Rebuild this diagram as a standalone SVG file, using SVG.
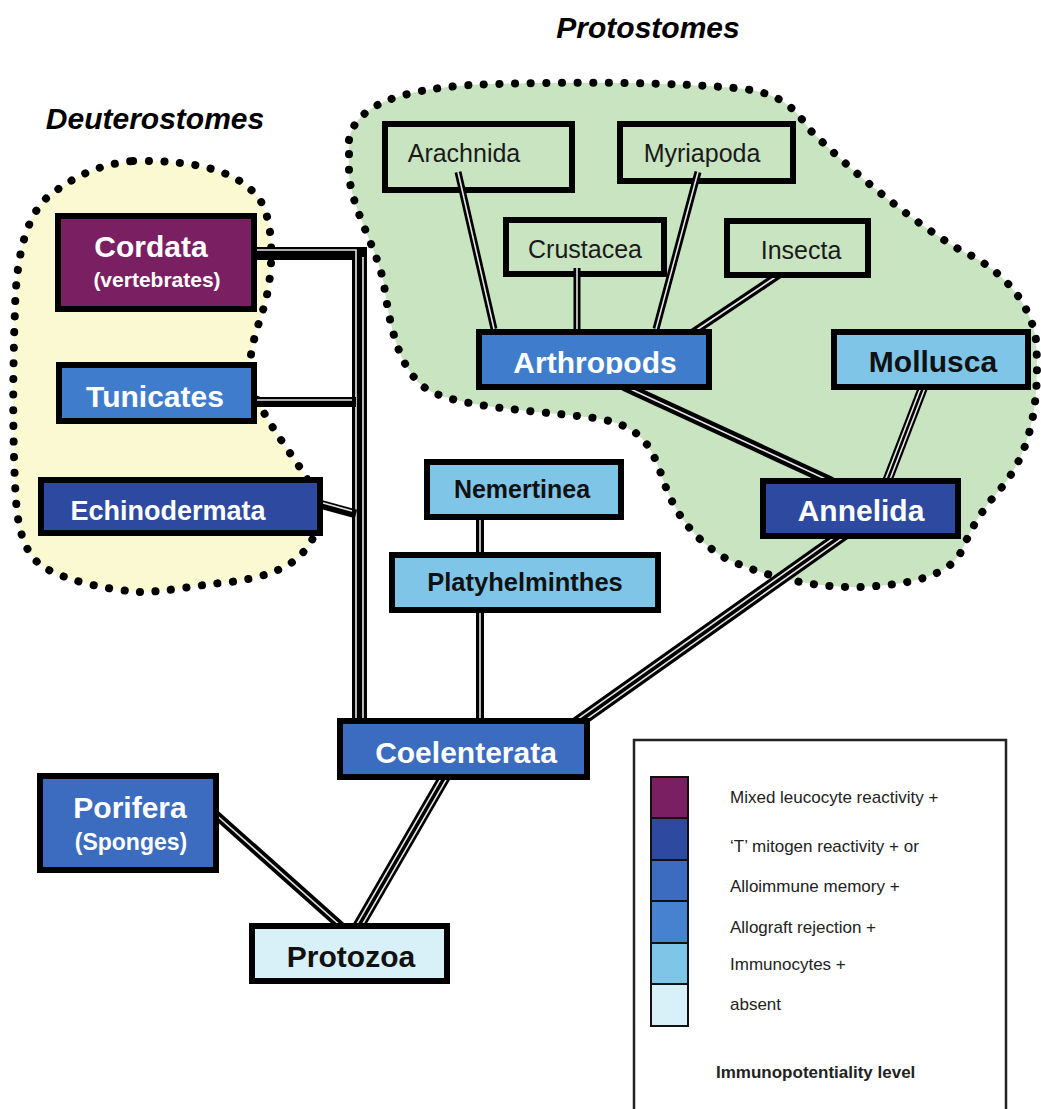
<svg xmlns="http://www.w3.org/2000/svg" width="1041" height="1109" viewBox="0 0 1041 1109">
<style>
.title{font-family:"Liberation Sans",Arial,sans-serif;font-weight:bold;font-style:italic;font-size:30px;fill:#000}
.blob-dots{fill:none;stroke:#000;stroke-width:8;stroke-linecap:round;stroke-dasharray:0.1 15.5}
.box{stroke:#000;stroke-width:6}
.lbl{font-family:"Liberation Sans",Arial,sans-serif;font-weight:bold;text-anchor:middle}
.w{fill:#fff}
.k{fill:#111}
.sm{font-family:"Liberation Sans",Arial,sans-serif;font-size:25px;fill:#1a1a1a;text-anchor:middle}
.cb{fill:none;stroke:#000;stroke-linecap:butt}
.cw{fill:none;stroke:#e6e6e6;stroke-width:1.6;stroke-linecap:butt}
.leg{font-family:"Liberation Sans",Arial,sans-serif;font-size:17px;fill:#222}
.purple{fill:#7b1f63}
.dblue{fill:#2d4aa0}
.mblue{fill:#3b6cc0}
.lblue{fill:#3f7dcc}
.sky{fill:#7ec5e8}
.pale{fill:#d8f0f8}
.green{fill:#c8e4c0}
</style>
<defs>
<path id="deutero-shape" d="M133,161 C200,160 240,172 260,200 C276,225 273,280 263,310 C255,335 246,360 252,385 C258,410 285,445 305,475 C322,505 320,535 305,550 C290,570 260,578 230,582 C190,586 165,592 140,592 C110,590 70,582 45,568 C25,556 18,530 16,500 C12,440 13,360 15,310 C16,260 25,215 50,195 C75,176 100,164 133,161 Z"/>
<path id="proto-shape" d="M349,140 C355,105 400,90 470,85 C560,81 680,82 745,89 C785,95 795,110 810,130 C850,170 910,220 960,250 C1000,268 1030,300 1036,340 C1040,400 1032,450 1002,487 C978,514 970,532 962,550 C950,576 910,585 860,587 C810,588 760,575 725,558 C695,540 676,515 665,485 C652,448 645,426 595,418 C530,410 462,408 428,390 C398,370 390,325 384,285 C378,250 352,210 349,175 Z"/>
<clipPath id="arthro-clip"><rect x="482" y="335" width="224" height="39"/></clipPath>
</defs>
<rect x="0" y="0" width="1041" height="1109" fill="#ffffff"/>

<text class="title" x="648" y="38" text-anchor="middle">Protostomes</text>
<text class="title" x="155" y="129" text-anchor="middle">Deuterostomes</text>

<g id="deuterostomes-blob">
<use href="#deutero-shape" fill="#fbf9d2"/>
<use href="#deutero-shape" class="blob-dots"/>
</g>
<g id="protostomes-blob">
<use href="#proto-shape" fill="#c8e4c0"/>
<use href="#proto-shape" class="blob-dots"/>
</g>

<g id="connectors">
<!-- Cordata to trunk -->
<path class="cb" stroke-width="13" d="M250,253.5 H367"/>
<path class="cb" stroke-width="15" d="M359.5,247 V726"/>
<path class="cw" d="M250,250 H356 V726"/>
<path class="cw" d="M363,257 V726"/>
<!-- Tunicates -->
<path class="cb" stroke-width="10" d="M250,402 H356"/>
<path class="cw" d="M250,400 H352"/>
<!-- Echinodermata -->
<path class="cb" stroke-width="9" d="M316,503 L356,514"/>
<path class="cw" d="M316,501 L352,511"/>
<!-- Nemertinea - Platyhelminthes -->
<path class="cb" stroke-width="8" d="M480,515 V558"/>
<path class="cw" d="M480,515 V558"/>
<!-- Platyhelminthes - Coelenterata -->
<path class="cb" stroke-width="8" d="M480,608 V724"/>
<path class="cw" d="M480,608 V724"/>
<!-- Annelida - Coelenterata -->
<path class="cb" stroke-width="13" d="M848,531 L574,725"/>
<path class="cw" d="M849.5,533.1 L575.5,727.1"/>
<path class="cw" d="M846.5,528.9 L572.5,722.9"/>
<!-- Coelenterata - Protozoa -->
<path class="cb" stroke-width="12" d="M447,773 L358,927"/>
<path class="cw" d="M449.2,774.3 L360.2,928.3"/>
<path class="cw" d="M444.8,771.8 L355.8,925.8"/>
<!-- Porifera - Protozoa -->
<path class="cb" stroke-width="9" d="M214,813 L342,927"/>
<path class="cw" d="M214,813 L342,927"/>
<!-- Arthropods - Annelida -->
<path class="cb" stroke-width="10" d="M624,386 L832,482"/>
<path class="cw" d="M624,386 L832,482"/>
<!-- Mollusca - Annelida -->
<path class="cb" stroke-width="10" d="M924,385 L886,484"/>
<path class="cw" d="M925.9,385.7 L887.9,484.7"/>
<path class="cw" d="M922.1,384.3 L884.1,483.3"/>
<!-- Insecta - Arthropods -->
<path class="cb" stroke-width="8" d="M780,274 L692,333"/>
<path class="cw" d="M780,274 L692,333"/>
</g>

<g id="node-cordata">
<rect class="box purple" x="58" y="216" width="196" height="93"/>
<text class="lbl w" x="151" y="257" font-size="30">Cordata</text>
<text class="lbl w" x="157" y="287" font-size="21">(vertebrates)</text>
</g>
<g id="node-tunicates">
<rect class="box lblue" x="59" y="365" width="195" height="56"/>
<text class="lbl w" x="155" y="407" font-size="30">Tunicates</text>
</g>
<g id="node-echinodermata">
<rect class="box dblue" x="41" y="480" width="279" height="53"/>
<text class="lbl w" x="168" y="520" font-size="27">Echinodermata</text>
</g>
<g id="node-arachnida">
<rect class="box green" x="385" y="124" width="187" height="66"/>
<text class="sm" x="464" y="162">Arachnida</text>
</g>
<g id="node-myriapoda">
<rect class="box green" x="620" y="124" width="173" height="57"/>
<text class="sm" x="702" y="162">Myriapoda</text>
</g>
<g id="node-crustacea">
<rect class="box green" x="506" y="220" width="158" height="54"/>
<text class="sm" x="585" y="258">Crustacea</text>
</g>
<g id="node-insecta">
<rect class="box green" x="727" y="221" width="141" height="54"/>
<text class="sm" x="801" y="259">Insecta</text>
</g>
<g id="node-arthropods">
<rect class="box lblue" x="479" y="332" width="230" height="55"/>
<text class="lbl w" x="595" y="373" font-size="30" clip-path="url(#arthro-clip)">Arthropods</text>
</g>
<g id="node-mollusca">
<rect class="box sky" x="834" y="332" width="194" height="55"/>
<text class="lbl k" x="933" y="372" font-size="30">Mollusca</text>
</g>
<g id="node-annelida">
<rect class="box dblue" x="763" y="481" width="195" height="55"/>
<text class="lbl w" x="861" y="521" font-size="30">Annelida</text>
</g>
<g id="node-nemertinea">
<rect class="box sky" x="427" y="462" width="194" height="55"/>
<text class="lbl k" x="522" y="498" font-size="25">Nemertinea</text>
</g>
<g id="node-platyhelminthes">
<rect class="box sky" x="392" y="555" width="266" height="55"/>
<text class="lbl k" x="525" y="591" font-size="25.5">Platyhelminthes</text>
</g>
<g id="node-coelenterata">
<rect class="box mblue" x="340" y="721" width="247" height="56"/>
<text class="lbl w" x="466" y="763" font-size="30">Coelenterata</text>
</g>
<g id="node-porifera">
<rect class="box mblue" x="40" y="776" width="176" height="94"/>
<text class="lbl w" x="130" y="818" font-size="30">Porifera</text>
<text class="lbl w" x="131" y="850" font-size="23">(Sponges)</text>
</g>
<g id="node-protozoa">
<rect class="box pale" x="252" y="926" width="195" height="55"/>
<text class="lbl k" x="351" y="967" font-size="30">Protozoa</text>
</g>

<g id="connectors-top">
<!-- Arachnida - Arthropods -->
<path class="cb" stroke-width="7" d="M458,172 L494,329"/>
<path class="cw" d="M458,172 L494,329"/>
<!-- Crustacea - Arthropods -->
<path class="cb" stroke-width="7" d="M577,268 V329"/>
<path class="cw" d="M577,268 V329"/>
<!-- Myriapoda - Arthropods -->
<path class="cb" stroke-width="7" d="M698,172 L656,329"/>
<path class="cw" d="M698,172 L656,329"/>
</g>

<g id="legend">
<rect x="634" y="740" width="372" height="380" fill="#fff" stroke="#222" stroke-width="2.5"/>
<rect class="purple" x="651" y="777" width="37" height="41" stroke="#111" stroke-width="2"/>
<rect class="dblue" x="651" y="818" width="37" height="42" stroke="#111" stroke-width="2"/>
<rect class="mblue" x="651" y="860" width="37" height="41" stroke="#111" stroke-width="2"/>
<rect fill="#4682cf" x="651" y="901" width="37" height="42" stroke="#111" stroke-width="2"/>
<rect class="sky" x="651" y="943" width="37" height="41" stroke="#111" stroke-width="2"/>
<rect class="pale" x="651" y="984" width="37" height="42" stroke="#111" stroke-width="2"/>
<text class="leg" x="730" y="803">Mixed leucocyte reactivity +</text>
<text class="leg" x="730" y="852">‘T’ mitogen reactivity + or</text>
<text class="leg" x="730" y="892">Alloimmune memory +</text>
<text class="leg" x="730" y="933">Allograft rejection +</text>
<text class="leg" x="730" y="970">Immunocytes +</text>
<text class="leg" x="730" y="1010">absent</text>
<text class="leg" x="716" y="1078" font-weight="bold" fill="#111">Immunopotentiality level</text>
</g>
</svg>
